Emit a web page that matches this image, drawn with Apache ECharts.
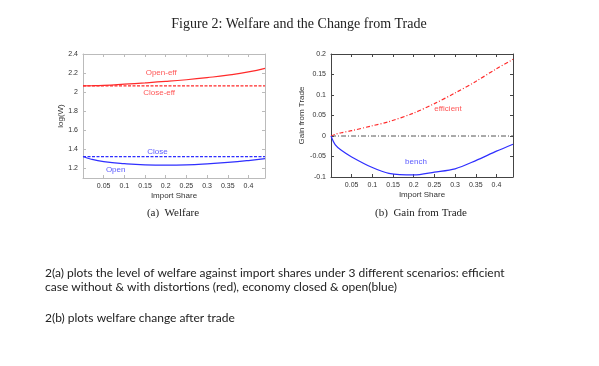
<!DOCTYPE html>
<html><head><meta charset="utf-8">
<script src="https://cdn.jsdelivr.net/npm/echarts@6/dist/echarts.min.js"></script>
<style>html,body{margin:0;padding:0;background:#fff}#c{width:599px;height:366px}</style>
</head><body><div id="c"></div>
<script>
// ---- data ----
var shareA = [0, 0.02, 0.05, 0.1, 0.15, 0.2, 0.25, 0.3, 0.35, 0.4, 0.44];
var openEff = [2.065, 2.067, 2.072, 2.084, 2.097, 2.112, 2.130, 2.152, 2.178, 2.212, 2.250];
var closeEff = [2.065, 2.065, 2.065, 2.065, 2.065, 2.065, 2.065, 2.065, 2.065, 2.065, 2.065];
var openW = [1.325, 1.297, 1.272, 1.250, 1.238, 1.235, 1.238, 1.248, 1.263, 1.283, 1.303];
var closeW = [1.325, 1.325, 1.325, 1.325, 1.325, 1.325, 1.325, 1.325, 1.325, 1.325, 1.325];

var shareB = [0, 0.01, 0.025, 0.05, 0.1, 0.14, 0.2, 0.25, 0.3, 0.35, 0.4, 0.44];
var efficient = [0, 0.004, 0.008, 0.013, 0.025, 0.035, 0.056, 0.079, 0.105, 0.133, 0.164, 0.187];
var bench = [0, -0.021, -0.035, -0.051, -0.077, -0.091, -0.095, -0.088, -0.080, -0.060, -0.037, -0.020];
var zeroLine = [0, 0, 0, 0, 0, 0, 0, 0, 0, 0, 0, 0];

var yTicksA = [1.2, 1.4, 1.6, 1.8, 2, 2.2, 2.4];
var labelsA = [["Open-eff", 0.189, 2.204], ["Close-eff", 0.184, 1.994], ["Close", 0.18, 1.373], ["Open", 0.079, 1.191]];
var labelsB = [["efficient", 0.283, 0.0655], ["bench", 0.2055, -0.0624]];

var figTitle = "Figure 2: Welfare and the Change from Trade";
var capA = "(a)  Welfare";
var capB = "(b)  Gain from Trade";
var notes = ["2(a) plots the level of welfare against import shares under 3 different scenarios: efficient",
             "case without & with distortions (red), economy closed & open(blue)",
             "",
             "2(b) plots welfare change after trade"];

// ---- style ----
var RED = "#ff2a2a", BLUE = "#2f2fff";
var F = "Liberation Sans";
function zip(xs, ys){ return xs.map(function(x,i){return [x, ys[i]];}); }
function labelSeries(list, color, xi, yi){
  return { type: "scatter", xAxisIndex: xi, yAxisIndex: yi, symbolSize: 1, silent: true,
    itemStyle: { color: "rgba(0,0,0,0)" },
    label: { show: true, position: "inside", formatter: function(p){return p.data[2];}, color: color, fontFamily: F, fontSize: 8 },
    data: list.map(function(l){ return [l[1], l[2], l[0]]; }) };
}
function xAx(grid, lineColor, top){
  return { type: "value", gridIndex: grid, min: 0, max: 0.44, interval: 0.05, position: top ? "top" : "bottom",
    name: top ? "" : "Import Share", nameLocation: "middle", nameGap: 14,
    nameTextStyle: { fontFamily: F, fontSize: 8, color: "#333" },
    axisLine: { show: true, onZero: false, lineStyle: { color: lineColor, width: 1 } },
    axisTick: { show: true, inside: true, length: 3, lineStyle: { color: lineColor } },
    axisLabel: { show: !top, showMinLabel: false, showMaxLabel: false, fontFamily: F, fontSize: 7, color: "#333", margin: 5 },
    splitLine: { show: false } };
}
var chart = echarts.init(document.getElementById("c"), null, { renderer: "canvas" });
var noteTops = [267, 281, 295, 312];
var graphics = notes.map(function(t, i){
  return { type: "text", left: 45, top: noteTops[i], style: { text: t, font: "12px Lato", fill: "#222" } };
});
chart.setOption({
  animation: false,
  title: [
    { text: figTitle, left: 294, top: 12, textAlign: "center", textStyle: { fontFamily: "Liberation Serif", fontSize: 14, fontWeight: "normal", color: "#222" } },
    { text: capA, left: 168, top: 203, textAlign: "center", textStyle: { fontFamily: "Liberation Serif", fontSize: 11, fontWeight: "normal", color: "#222" } },
    { text: capB, left: 416, top: 203, textAlign: "center", textStyle: { fontFamily: "Liberation Serif", fontSize: 11, fontWeight: "normal", color: "#222" } }
  ],
  graphic: graphics,
  grid: [
    { left: 83, top: 54, width: 182, height: 124, show: false },
    { left: 331, top: 54, width: 182, height: 123, show: false }
  ],
  xAxis: [ xAx(0, "#bbb", false), xAx(0, "#bbb", true), xAx(1, "#444", false), xAx(1, "#444", true) ],
  yAxis: [
    { type: "value", gridIndex: 0, min: 1.1, max: 2.4, name: "log(W)", nameLocation: "middle", nameGap: 14,
      nameTextStyle: { fontFamily: F, fontSize: 8, color: "#333" },
      axisLine: { show: true, onZero: false, lineStyle: { color: "#bbb" } },
      axisTick: { show: true, inside: true, length: 3, customValues: yTicksA, lineStyle: { color: "#bbb" } },
      axisLabel: { customValues: yTicksA, fontFamily: F, fontSize: 7, color: "#333", margin: 5 },
      splitLine: { show: false } },
    { type: "value", gridIndex: 0, position: "right", min: 1.1, max: 2.4,
      axisLine: { show: true, onZero: false, lineStyle: { color: "#bbb" } },
      axisTick: { show: true, inside: true, length: 3, customValues: yTicksA, lineStyle: { color: "#bbb" } },
      axisLabel: { show: false }, splitLine: { show: false } },
    { type: "value", gridIndex: 1, min: -0.1, max: 0.2, interval: 0.05, name: "Gain from Trade", nameLocation: "middle", nameGap: 25,
      nameTextStyle: { fontFamily: F, fontSize: 8, color: "#333" },
      axisLine: { show: true, onZero: false, lineStyle: { color: "#444" } },
      axisTick: { show: true, inside: true, length: 3, lineStyle: { color: "#444" } },
      axisLabel: { fontFamily: F, fontSize: 7, color: "#333", margin: 5 },
      splitLine: { show: false } },
    { type: "value", gridIndex: 1, position: "right", min: -0.1, max: 0.2, interval: 0.05,
      axisLine: { show: true, onZero: false, lineStyle: { color: "#444" } },
      axisTick: { show: true, inside: true, length: 3, lineStyle: { color: "#444" } },
      axisLabel: { show: false }, splitLine: { show: false } }
  ],
  series: [
    { type: "line", xAxisIndex: 0, yAxisIndex: 0, data: zip(shareA, closeEff), symbol: "none", lineStyle: { color: RED, width: 1.2, type: [3, 1.5] } },
    { type: "line", xAxisIndex: 0, yAxisIndex: 0, data: zip(shareA, openEff), smooth: true, symbol: "none", lineStyle: { color: RED, width: 1.2 } },
    { type: "line", xAxisIndex: 0, yAxisIndex: 0, data: zip(shareA, closeW), symbol: "none", lineStyle: { color: BLUE, width: 1.2, type: [3, 1.5] } },
    { type: "line", xAxisIndex: 0, yAxisIndex: 0, data: zip(shareA, openW), smooth: true, symbol: "none", lineStyle: { color: BLUE, width: 1.2 } },
    { type: "line", xAxisIndex: 2, yAxisIndex: 2, data: zip(shareB, zeroLine), symbol: "none", lineStyle: { color: "#555", width: 1, type: [5, 2, 1, 2] } },
    { type: "line", xAxisIndex: 2, yAxisIndex: 2, data: zip(shareB, efficient), smooth: 0.3, symbol: "none", lineStyle: { color: RED, width: 1.2, type: [4, 2, 1, 2] } },
    { type: "line", xAxisIndex: 2, yAxisIndex: 2, data: zip(shareB, bench), smooth: 0.3, symbol: "none", lineStyle: { color: BLUE, width: 1.2 } },
    labelSeries(labelsA.slice(0, 2), RED, 0, 0),
    labelSeries(labelsA.slice(2), BLUE, 0, 0),
    labelSeries(labelsB.slice(0, 1), RED, 2, 2),
    labelSeries(labelsB.slice(1), BLUE, 2, 2)
  ]
});
</script></body></html>
